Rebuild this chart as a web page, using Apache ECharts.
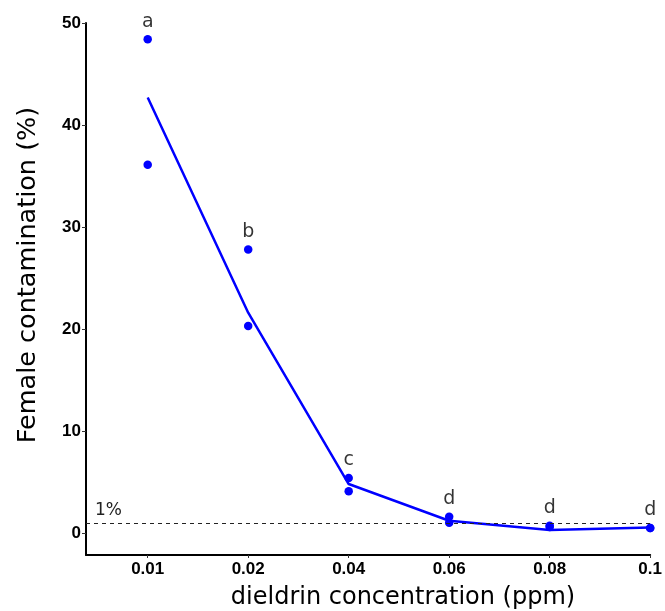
<!DOCTYPE html>
<html>
<head>
<meta charset="utf-8">
<script src="https://cdn.jsdelivr.net/npm/echarts@6/dist/echarts.min.js"></script>
<style>html,body{margin:0;padding:0;background:#fff}#c{width:665px;height:611px}</style>
</head>
<body>
<div id="c"></div>
<script>
var categories = ['0.01', '0.02', '0.04', '0.06', '0.08', '0.1'];
var replicateA = [48.4, 27.8, 5.4, 1.6, 0.7, 0.5];
var replicateB = [36.1, 20.3, 4.1, 1.0, 0.6, 0.5];
var fitLine = [42.7, 21.6, 4.8, 1.2, 0.3, 0.55];
var letters = ['a', 'b', 'c', 'd', 'd', 'd'];
var yTicks = [0, 10, 20, 30, 40, 50];
var threshold = 1;

var idx = categories.map(function (_, i) { return i; });
var points = [];
categories.forEach(function (c, i) {
  points.push([i, replicateA[i]]);
  points.push([i, replicateB[i]]);
});
var fitData = fitLine.map(function (v, i) { return [i, v]; });
var letterData = letters.map(function (l, i) {
  return { value: [i, Math.max(replicateA[i], replicateB[i])], name: l };
});

var chart = echarts.init(document.getElementById('c'));
chart.setOption({
  animation: false,
  grid: { left: 86, right: 12, top: 23, bottom: 56 },
  xAxis: {
    type: 'value', min: -0.614, max: 5,
    axisLine: { show: true, onZero: false, lineStyle: { color: '#000', width: 2 } },
    axisTick: { show: true, customValues: idx, length: 3, lineStyle: { color: '#333' } },
    axisLabel: {
      customValues: idx,
      formatter: function (v) { return categories[Math.round(v)]; },
      fontFamily: 'Liberation Sans', fontWeight: 'bold', fontSize: 17, color: '#000', margin: 6
    },
    splitLine: { show: false }
  },
  yAxis: {
    type: 'value', min: -2.157, max: 50,
    axisLine: { show: true, onZero: false, lineStyle: { color: '#000', width: 2 } },
    axisTick: { show: true, customValues: yTicks, length: 4, lineStyle: { color: '#333' } },
    axisLabel: {
      customValues: yTicks,
      fontFamily: 'Liberation Sans', fontWeight: 'bold', fontSize: 17, color: '#000', margin: 5
    },
    splitLine: { show: false }
  },
  graphic: [
    { type: 'text', x: 403, y: 598, style: { text: 'dieldrin concentration (ppm)', font: '24px "DejaVu Sans"', fill: '#000', textAlign: 'center', textVerticalAlign: 'middle' } },
    { type: 'text', x: 28, y: 275, rotation: Math.PI / 2, style: { text: 'Female contamination (%)', font: '25.5px "DejaVu Sans"', fill: '#000', textAlign: 'center', textVerticalAlign: 'middle' } }
  ],
  series: [
    {
      type: 'line', data: fitData, symbol: 'none', z: 2,
      lineStyle: { color: '#0000FF', width: 2.5 },
      markLine: {
        silent: true, symbol: 'none',
        lineStyle: { color: '#222', type: [4, 4], width: 1.2 },
        label: {
          show: true, position: 'insideStartTop', formatter: '1%',
          fontFamily: 'DejaVu Sans', fontSize: 17, color: '#222', distance: [9, 4]
        },
        data: [{ yAxis: threshold }]
      }
    },
    {
      type: 'scatter', data: points, symbolSize: 8.5, z: 3,
      itemStyle: { color: '#0000FF', opacity: 1 }
    },
    {
      type: 'scatter', data: letterData, symbolSize: 0, z: 4, silent: true,
      label: {
        show: true, position: 'top', distance: 8,
        formatter: function (p) { return p.name; },
        fontFamily: 'DejaVu Sans', fontSize: 19, color: '#000'
      }
    }
  ]
});
</script>
</body>
</html>
